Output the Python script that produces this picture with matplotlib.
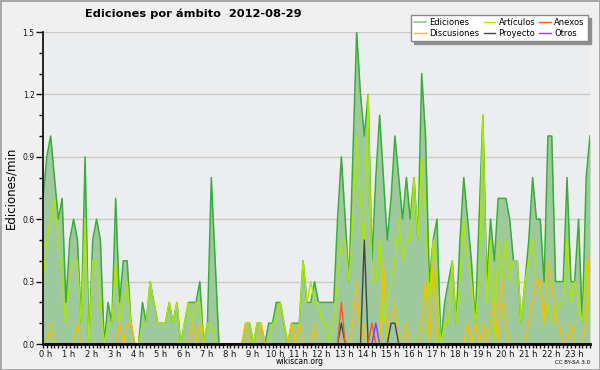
import numpy as np
import matplotlib
matplotlib.use('Agg')
import matplotlib.pyplot as plt
from matplotlib.ticker import MultipleLocator, FixedLocator
from matplotlib.transforms import ScaledTranslation
from matplotlib.lines import Line2D

# Ediciones por minuto, un valor cada 10 minutos (144 tramos en el dia)
ediciones = [
    0.7, 0.9, 1.0, 0.8, 0.6, 0.7, 0.2, 0.5, 0.6, 0.5, 0.1, 0.9,
    0.0, 0.5, 0.6, 0.5, 0.0, 0.2, 0.1, 0.7, 0.2, 0.4, 0.4, 0.1,
    0.0, 0.0, 0.2, 0.1, 0.3, 0.2, 0.1, 0.1, 0.1, 0.2, 0.1, 0.2,
    0.0, 0.1, 0.2, 0.2, 0.2, 0.3, 0.0, 0.1, 0.8, 0.4, 0.0, 0.0,
    0.0, 0.0, 0.0, 0.0, 0.0, 0.1, 0.1, 0.0, 0.1, 0.1, 0.0, 0.1,
    0.1, 0.2, 0.2, 0.1, 0.0, 0.1, 0.1, 0.1, 0.4, 0.2, 0.2, 0.3,
    0.2, 0.2, 0.2, 0.2, 0.2, 0.6, 0.9, 0.6, 0.3, 0.9, 1.5, 1.2,
    1.0, 1.2, 0.4, 0.8, 1.1, 0.8, 0.5, 0.7, 1.0, 0.8, 0.6, 0.8,
    0.6, 0.8, 0.5, 1.3, 1.0, 0.3, 0.5, 0.6, 0.0, 0.2, 0.3, 0.4,
    0.1, 0.5, 0.8, 0.6, 0.4, 0.1, 0.6, 1.1, 0.3, 0.6, 0.4, 0.7,
    0.7, 0.7, 0.6, 0.4, 0.4, 0.1, 0.3, 0.5, 0.8, 0.6, 0.6, 0.3,
    1.0, 1.0, 0.3, 0.3, 0.3, 0.8, 0.3, 0.3, 0.6, 0.1, 0.8, 1.0,
]
articulos = [
    0.3, 0.5, 0.6, 0.7, 0.5, 0.3, 0.1, 0.3, 0.4, 0.4, 0.1, 0.6,
    0.0, 0.4, 0.4, 0.2, 0.0, 0.1, 0.1, 0.4, 0.1, 0.2, 0.3, 0.1,
    0.0, 0.0, 0.1, 0.1, 0.3, 0.2, 0.1, 0.1, 0.1, 0.2, 0.1, 0.2,
    0.0, 0.1, 0.2, 0.1, 0.2, 0.2, 0.0, 0.1, 0.1, 0.0, 0.0, 0.0,
    0.0, 0.0, 0.0, 0.0, 0.0, 0.1, 0.1, 0.0, 0.1, 0.1, 0.0, 0.0,
    0.1, 0.1, 0.2, 0.1, 0.0, 0.1, 0.0, 0.1, 0.4, 0.2, 0.3, 0.2,
    0.2, 0.1, 0.1, 0.0, 0.1, 0.3, 0.5, 0.5, 0.3, 0.6, 1.0, 0.7,
    0.4, 1.2, 0.3, 0.3, 0.5, 0.1, 0.2, 0.3, 0.4, 0.6, 0.4, 0.5,
    0.5, 0.8, 0.5, 0.9, 0.6, 0.2, 0.5, 0.3, 0.0, 0.1, 0.1, 0.4,
    0.1, 0.3, 0.6, 0.4, 0.3, 0.1, 0.3, 1.1, 0.2, 0.5, 0.0, 0.5,
    0.3, 0.5, 0.3, 0.4, 0.4, 0.1, 0.3, 0.4, 0.5, 0.3, 0.3, 0.1,
    0.2, 0.1, 0.1, 0.2, 0.2, 0.5, 0.2, 0.3, 0.2, 0.1, 0.4, 0.1,
]
discusiones = [
    0.0, 0.0, 0.1, 0.0, 0.0, 0.0, 0.0, 0.0, 0.0, 0.1, 0.0, 0.0,
    0.0, 0.0, 0.0, 0.0, 0.0, 0.0, 0.0, 0.0, 0.1, 0.0, 0.1, 0.1,
    0.0, 0.0, 0.0, 0.0, 0.0, 0.0, 0.0, 0.0, 0.0, 0.0, 0.0, 0.0,
    0.0, 0.0, 0.0, 0.1, 0.0, 0.1, 0.0, 0.0, 0.0, 0.0, 0.0, 0.0,
    0.0, 0.0, 0.0, 0.0, 0.0, 0.1, 0.0, 0.0, 0.0, 0.1, 0.0, 0.0,
    0.0, 0.0, 0.0, 0.0, 0.0, 0.1, 0.0, 0.1, 0.0, 0.0, 0.0, 0.1,
    0.0, 0.0, 0.0, 0.0, 0.0, 0.0, 0.0, 0.0, 0.0, 0.1, 0.3, 0.0,
    0.1, 0.0, 0.0, 0.0, 0.0, 0.4, 0.0, 0.1, 0.2, 0.0, 0.0, 0.1,
    0.0, 0.0, 0.0, 0.1, 0.3, 0.0, 0.4, 0.0, 0.0, 0.0, 0.0, 0.0,
    0.0, 0.0, 0.0, 0.1, 0.0, 0.1, 0.0, 0.1, 0.0, 0.1, 0.2, 0.0,
    0.3, 0.1, 0.0, 0.0, 0.0, 0.0, 0.0, 0.1, 0.2, 0.3, 0.3, 0.1,
    0.4, 0.3, 0.1, 0.1, 0.0, 0.0, 0.1, 0.0, 0.0, 0.0, 0.1, 0.5,
]
proyecto = [0.0] * 144
proyecto[78] = 0.1
proyecto[84] = 0.5
proyecto[91] = 0.1
proyecto[92] = 0.1
anexos = [0.0] * 144
anexos[78] = 0.2
anexos[86] = 0.1
otros = [0.0] * 144
otros[87] = 0.1

horas = np.arange(len(ediciones)) / 6.0
hour_ticks = list(range(24))
hour_labels = ['%d h' % h for h in hour_ticks]
y_ticks = [0.0, 0.3, 0.6, 0.9, 1.2, 1.5]

fig = plt.figure(figsize=(6, 3.7), dpi=100, facecolor='#f0f0f0',
                 edgecolor='#a8a8a8', linewidth=2)
ax = fig.add_axes([43 / 600, 26 / 370, 547 / 600, 312 / 370])
ax.set_facecolor('#ecedef')

# area de ediciones y series por ambito
ax.fill_between(horas, ediciones, 0, color='#9dc99d', linewidth=0, zorder=1)
ax.plot(horas, ediciones, color='#38ad38', lw=1.1, zorder=2)
l_ar, = ax.plot(horas, articulos, color='#aee600', lw=1.0, zorder=2)
l_di, = ax.plot(horas, discusiones, color='#f5c000', lw=1.0, zorder=2)
l_pr, = ax.plot(horas, proyecto, color='#444444', lw=1.0, zorder=2)
l_an, = ax.plot(horas, anexos, color='#ff5a14', lw=1.0, zorder=2)
l_ot, = ax.plot(horas, otros, color='#9933ff', lw=1.0, zorder=2)
l_ed = Line2D([], [], color='#7ccc7c', lw=1.1)

ax.set_xlim(0, horas[-1])
ax.set_ylim(0, 1.5)

ax.xaxis.set_major_locator(FixedLocator(hour_ticks))
ax.set_xticklabels(hour_labels)
ax.xaxis.set_minor_locator(MultipleLocator(1 / 6))
ax.yaxis.set_major_locator(FixedLocator(y_ticks))
ax.set_yticklabels(['%.1f' % v for v in y_ticks])
ax.yaxis.set_minor_locator(MultipleLocator(0.1))

ax.tick_params(axis='x', which='both', direction='out', length=3, width=1,
               labelsize=6, pad=1, colors='#111111')
ax.tick_params(axis='y', which='major', direction='out', length=5, width=1,
               labelsize=5.5, pad=1, colors='#111111')
ax.tick_params(axis='y', which='minor', direction='out', length=3, width=1)

# las etiquetas de hora van un poco a la derecha de su marca
shift = ScaledTranslation(3 / 100, 0, fig.dpi_scale_trans)
for lab in ax.get_xticklabels():
    lab.set_transform(lab.get_transform() + shift)

ax.yaxis.grid(True, color='#cacaca', linewidth=1)
ax.set_axisbelow(True)

for side in ['top', 'right']:
    ax.spines[side].set_visible(False)
ax.spines['left'].set_linewidth(1.2)
ax.spines['bottom'].set_linewidth(2)

ax.set_ylabel('Ediciones/min', fontsize=8.5, labelpad=4)

fig.text(85 / 600, 1 - 14 / 370, 'Ediciones por ámbito  2012-08-29',
         fontsize=8.2, fontweight='bold', ha='left', va='center')
fig.text(300 / 600, 1 - 362 / 370, 'wikiscan.org', fontsize=5.5,
         ha='center', va='center')
fig.text(590 / 600, 1 - 362 / 370, 'CC BY-SA 3.0', fontsize=4,
         ha='right', va='center')

leg = ax.legend([l_ed, l_di, l_ar, l_pr, l_an, l_ot],
                ['Ediciones', 'Discusiones', 'Artículos', 'Proyecto', 'Anexos', 'Otros'],
                ncol=3, loc='upper right', bbox_to_anchor=(592 / 600, 1 - 11 / 370),
                bbox_transform=fig.transFigure, fontsize=6, handlelength=1.4,
                handletextpad=0.4, columnspacing=0.5, labelspacing=0.25,
                borderpad=0.35, fancybox=False, framealpha=1,
                shadow={'color': '#909090', 'alpha': 1})
leg.get_frame().set_edgecolor('#888888')
leg.get_frame().set_linewidth(1)
leg.set_zorder(5)

fig.savefig('out.png', dpi=100, facecolor=fig.get_facecolor(),
            edgecolor=fig.get_edgecolor())
